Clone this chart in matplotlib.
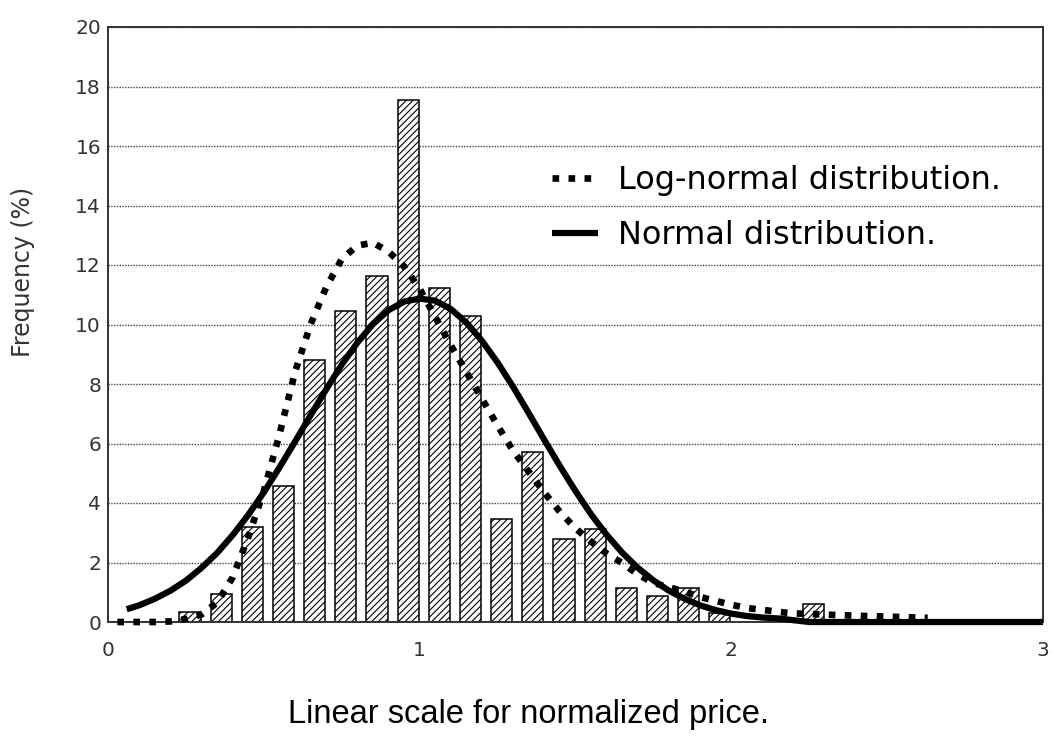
import matplotlib
matplotlib.use("Agg")
import matplotlib.pyplot as plt

# ---- data ----
bar_x = [0.263, 0.363, 0.463, 0.563, 0.663, 0.763, 0.863, 0.963, 1.063, 1.163,
         1.263, 1.363, 1.463, 1.563, 1.663, 1.763, 1.863, 1.963, 2.263]
bar_h = [0.34, 0.95, 3.18, 4.58, 8.79, 10.47, 11.63, 17.53, 11.24, 10.29,
         3.45, 5.73, 2.78, 3.11, 1.15, 0.89, 1.15, 0.30, 0.60]

norm_x = [0.06, 0.10, 0.15, 0.20, 0.25, 0.30, 0.35, 0.40, 0.45, 0.50, 0.55, 0.60,
          0.65, 0.70, 0.75, 0.80, 0.85, 0.90, 0.95, 1.00, 1.05, 1.10, 1.15, 1.20,
          1.25, 1.30, 1.35, 1.40, 1.45, 1.50, 1.55, 1.60, 1.65, 1.70, 1.75, 1.80,
          1.85, 1.90, 1.95, 2.00, 2.05, 2.10, 2.15, 2.20, 2.25, 2.40, 2.60, 2.80, 3.00]
norm_y = [0.43, 0.56, 0.78, 1.05, 1.39, 1.82, 2.32, 2.92, 3.60, 4.36, 5.19, 6.06,
          6.95, 7.82, 8.65, 9.39, 10.01, 10.48, 10.77, 10.87, 10.80, 10.52, 10.06, 9.45,
          8.72, 7.90, 7.02, 6.12, 5.24, 4.40, 3.62, 2.93, 2.33, 1.82, 1.40, 1.05,
          0.78, 0.56, 0.40, 0.28, 0.20, 0.15, 0.12, 0.06, 0.0, 0.0, 0.0, 0.0, 0.0]

logn_x = [0.03, 0.10, 0.15, 0.20, 0.25, 0.30, 0.35, 0.40, 0.45, 0.50, 0.55, 0.60,
          0.65, 0.70, 0.75, 0.80, 0.85, 0.90, 0.95, 1.00, 1.05, 1.10, 1.15, 1.20,
          1.25, 1.30, 1.35, 1.40, 1.45, 1.50, 1.55, 1.60, 1.65, 1.70, 1.75, 1.80,
          1.85, 1.90, 1.95, 2.00, 2.05, 2.10, 2.15, 2.20, 2.30, 2.40, 2.50, 2.60, 2.63]
logn_y = [0.0, 0.0, 0.0, 0.02, 0.10, 0.25, 0.65, 1.50, 2.85, 4.40, 6.30, 8.40,
          10.00, 11.25, 12.20, 12.65, 12.75, 12.45, 11.95, 11.20, 10.25, 9.30, 8.40, 7.50,
          6.60, 5.75, 5.05, 4.35, 3.70, 3.15, 2.70, 2.30, 1.98, 1.60, 1.31, 1.17,
          1.02, 0.84, 0.71, 0.58, 0.47, 0.41, 0.34, 0.29, 0.25, 0.21, 0.18, 0.15, 0.14]

x_ticks = [0, 1, 2, 3]
y_ticks = [0, 2, 4, 6, 8, 10, 12, 14, 16, 18, 20]
legend_labels = ["Log-normal distribution.", "Normal distribution."]
x_label = "Linear scale for normalized price."
y_label = "Frequency (%)"

# ---- figure ----
plt.rcParams['hatch.linewidth'] = 0.8
plt.rcParams['font.family'] = ['DejaVu Sans']

W, H = 1052, 738
fig = plt.figure(figsize=(W / 100, H / 100), dpi=100)
ax = fig.add_axes([108 / W, (H - 622) / H, 935 / W, 595 / H])

ax.bar(bar_x, bar_h, width=0.068, color='white', edgecolor='black',
       hatch='/////', linewidth=1.1, zorder=2)

ln_norm, = ax.plot(norm_x, norm_y, color='black', lw=4.5,
                   solid_capstyle='butt', zorder=3, clip_on=False)
ln_logn, = ax.plot(logn_x, logn_y, color='black', lw=4.8,
                   linestyle=(0, (1, 1.4)), dash_capstyle='butt',
                   zorder=4, clip_on=False)

ax.set_xlim(0, 3)
ax.set_ylim(0, 20)
ax.set_xticks(x_ticks)
ax.set_yticks(y_ticks)
ax.tick_params(axis='both', length=0, labelsize=14.5, labelcolor='#333333')
ax.tick_params(axis='x', pad=14)
ax.tick_params(axis='y', pad=5)
ax.yaxis.grid(True, linestyle=(0, (1, 1)), color='#444444', lw=1.0, zorder=1)
ax.set_axisbelow(True)
for s in ax.spines.values():
    s.set_linewidth(1.4)
    s.set_color('#333333')

leg = ax.legend([ln_logn, ln_norm], legend_labels, loc='upper left',
                bbox_to_anchor=(0.475, 0.768), frameon=False, fontsize=23,
                handlelength=1.45, handletextpad=0.6, labelspacing=0.75,
                borderpad=0, borderaxespad=0)

fig.text(23 / W, 1 - 272 / H, y_label, rotation=90, ha='center', va='center',
         fontsize=17, color='#333333')
fig.text(529 / W, 1 - 715 / H, x_label, ha='center', va='center',
         fontsize=23.5, family=['Liberation Sans', 'DejaVu Sans'], color='black')

fig.savefig('out.png', dpi=100)
